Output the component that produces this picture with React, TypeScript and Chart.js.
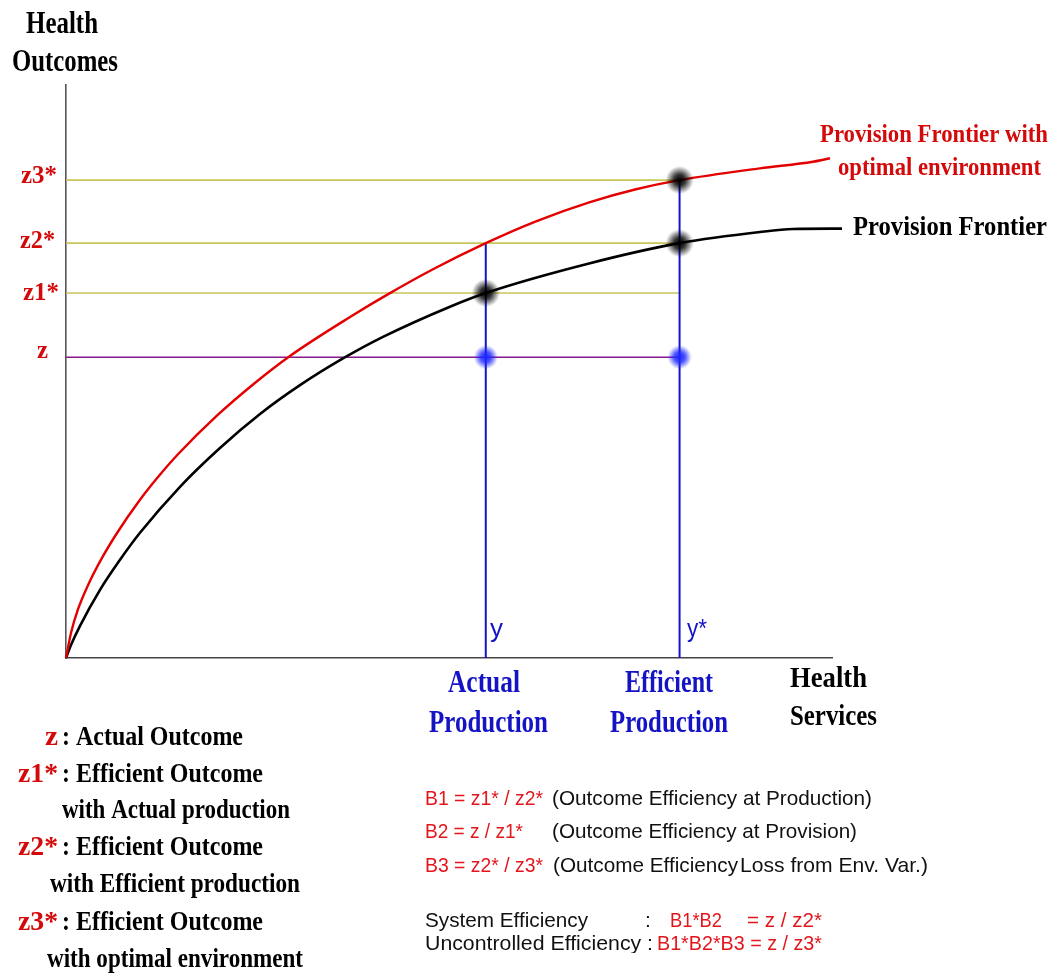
import React, { useEffect, useRef } from "react";
import { Chart, registerables } from "chart.js";

Chart.register(...registerables);

// Provision frontier (black) – health services vs health outcomes
const frontierX = [0, 0.65, 1.83, 4.44, 7.05, 9.66, 14.88, 20.1, 25.33, 30.55, 36.16, 41.38, 50.13, 54.8, 68.41, 80.1, 90.6, 94.91, 101.31];
const frontierY = [0, 2.27, 5.62, 11.9, 17.14, 21.85, 29.88, 36.65, 42.58, 47.61, 52.27, 56.04, 61.31, 63.7, 68.9, 72.4, 74.35, 74.87, 74.94];

// Provision frontier with optimal environment (red)
const optimalX = [0, 0.65, 1.57, 2.87, 4.7, 6.79, 9.4, 12.01, 14.62, 19.84, 24.54, 29.24, 37.08, 41.78, 47.91, 54.8, 61.36, 68.41, 74.41, 80.1, 90.6, 97.52, 99.74];
const optimalY = [0, 4.36, 8.52, 12.7, 17.47, 22.08, 27.14, 31.57, 35.55, 42.46, 47.87, 52.71, 59.51, 63.28, 67.84, 72.4, 76.21, 79.56, 81.81, 83.4, 85.46, 86.61, 87.21];

// Outcome levels: z, z1*, z2*, z3*
const outcomeLabels = ["z", "z1*", "z2*", "z3*"];
const outcomeLevels = [52.5, 63.7, 72.4, 83.4];

// Production levels: y (actual), y* (efficient)
const productionLabels = ["y", "y*"];
const productionLevels = [54.8, 80.1];

const RED = "#d40a0a";
const FRED = "#e3161c";
const BLUE = "#1414c4";
const YELLOW = "#c9c65a";
const PURPLE = "#84188c";

const serif = (px: number) => `bold ${px}px "Liberation Serif", "Times New Roman", serif`;
const sans = (px: number) => `${px}px "Liberation Sans", Arial, sans-serif`;

type TextItem = { t: string; x0: number; x1?: number; y: number; font: string; color: string; clipBottom?: number };

const [zA, z1, z2, z3] = outcomeLevels;
const [yA, yE] = productionLevels;

const texts: TextItem[] = [
  { t: "Health", x0: 26, x1: 98, y: 33, font: serif(32), color: "#000" },
  { t: "Outcomes", x0: 12, x1: 118, y: 71, font: serif(32), color: "#000" },
  { t: outcomeLabels[3], x0: 21, x1: 57, y: 183, font: serif(26), color: RED },
  { t: outcomeLabels[2], x0: 20, x1: 55, y: 248, font: serif(26), color: RED },
  { t: outcomeLabels[1], x0: 23, x1: 59, y: 300, font: serif(26), color: RED },
  { t: outcomeLabels[0], x0: 37, x1: 48, y: 358, font: serif(26), color: RED },
  { t: "Provision Frontier with", x0: 820, x1: 1048, y: 142, font: serif(26), color: RED },
  { t: "optimal environment", x0: 838, x1: 1041, y: 175, font: serif(26), color: RED },
  { t: "Provision Frontier", x0: 853, x1: 1047, y: 235, font: serif(27), color: "#000" },
  { t: productionLabels[0], x0: 490, x1: 503, y: 637, font: sans(26), color: BLUE },
  { t: productionLabels[1], x0: 687, x1: 707, y: 637, font: sans(26), color: BLUE },
  { t: "Actual", x0: 448, x1: 520, y: 692, font: serif(31), color: BLUE },
  { t: "Production", x0: 429, x1: 548, y: 732, font: serif(31), color: BLUE },
  { t: "Efficient", x0: 625, x1: 713, y: 692, font: serif(31), color: BLUE },
  { t: "Production", x0: 610, x1: 728, y: 732, font: serif(31), color: BLUE },
  { t: "Health", x0: 790, x1: 867, y: 687, font: serif(30), color: "#000" },
  { t: "Services", x0: 790, x1: 877, y: 725, font: serif(30), color: "#000" },

  { t: "z", x0: 45, x1: 58, y: 745, font: serif(28), color: RED },
  { t: ": Actual Outcome", x0: 62, x1: 243, y: 745, font: serif(28), color: "#000" },
  { t: "z1*", x0: 18, x1: 58, y: 782, font: serif(28), color: RED },
  { t: ": Efficient Outcome", x0: 62, x1: 263, y: 782, font: serif(28), color: "#000" },
  { t: "with Actual production", x0: 62, x1: 290, y: 818, font: serif(28), color: "#000" },
  { t: "z2*", x0: 18, x1: 58, y: 855, font: serif(28), color: RED },
  { t: ": Efficient Outcome", x0: 62, x1: 263, y: 855, font: serif(28), color: "#000" },
  { t: "with Efficient production", x0: 50, x1: 300, y: 892, font: serif(28), color: "#000" },
  { t: "z3*", x0: 18, x1: 58, y: 930, font: serif(28), color: RED },
  { t: ": Efficient Outcome", x0: 62, x1: 263, y: 930, font: serif(28), color: "#000" },
  { t: "with optimal environment", x0: 47, x1: 303, y: 967, font: serif(28), color: "#000" },

  { t: "B1 = z1* / z2*", x0: 425, x1: 543, y: 805, font: sans(21), color: FRED },
  { t: "(Outcome Efficiency at Production)", x0: 552, x1: 872, y: 805, font: sans(21), color: "#111" },
  { t: "B2 = z / z1*", x0: 425, x1: 523, y: 838, font: sans(21), color: FRED },
  { t: "(Outcome Efficiency at Provision)", x0: 552, x1: 857, y: 838, font: sans(21), color: "#111" },
  { t: "B3 = z2* / z3*", x0: 425, x1: 543, y: 872, font: sans(21), color: FRED },
  { t: "(Outcome Efficiency", x0: 553, x1: 738, y: 872, font: sans(21), color: "#111" },
  { t: "Loss from Env. Var.)", x0: 740, x1: 928, y: 872, font: sans(21), color: "#111" },
  { t: "System Efficiency", x0: 425, x1: 588, y: 927, font: sans(21), color: "#111" },
  { t: ":", x0: 645, y: 927, font: sans(21), color: "#111" },
  { t: "B1*B2", x0: 670, x1: 722, y: 927, font: sans(21), color: FRED },
  { t: "= z / z2*", x0: 747, x1: 822, y: 927, font: sans(21), color: FRED },
  { t: "Uncontrolled Efficiency :", x0: 425, x1: 653, y: 950, font: sans(21), color: "#111", clipBottom: 953 },
  { t: "B1*B2*B3 = z / z3*", x0: 657, x1: 822, y: 950, font: sans(21), color: FRED },
];

const textPlugin = {
  id: "diagramTexts",
  afterDraw(chart: any) {
    const ctx: CanvasRenderingContext2D = chart.ctx;
    for (const it of texts) {
      ctx.save();
      if (it.clipBottom) {
        ctx.beginPath();
        ctx.rect(0, 0, 1058, it.clipBottom);
        ctx.clip();
      }
      ctx.font = it.font;
      ctx.fillStyle = it.color;
      ctx.textBaseline = "alphabetic";
      ctx.textAlign = "left";
      const w = ctx.measureText(it.t).width;
      const sx = it.x1 !== undefined ? (it.x1 - it.x0) / w : 1;
      ctx.translate(it.x0, it.y);
      ctx.scale(sx, 1);
      ctx.fillText(it.t, 0, 0);
      ctx.restore();
    }
  },
};

function makeDot(r: number, rgb: string, core: number, mid: number) {
  const c = document.createElement("canvas");
  c.width = r * 2;
  c.height = r * 2;
  const g = c.getContext("2d")!;
  const grad = g.createRadialGradient(r, r, 0, r, r, r);
  grad.addColorStop(0, `rgba(${rgb},1)`);
  grad.addColorStop(core, `rgba(${rgb},${mid})`);
  grad.addColorStop(1, `rgba(${rgb},0)`);
  g.fillStyle = grad;
  g.fillRect(0, 0, r * 2, r * 2);
  return c;
}

const zip = (xs: number[], ys: number[]) => xs.map((x, i) => ({ x, y: ys[i] }));

export default function App() {
  const ref = useRef<HTMLCanvasElement | null>(null);

  useEffect(() => {
    if (!ref.current) return;
    const blackDot = makeDot(14, "0,0,0", 0.4, 0.8);
    const blueDot = makeDot(12, "30,40,255", 0.45, 0.8);

    const hLine = (lvl: number, color: string) => ({
      data: [{ x: 0, y: lvl }, { x: yE, y: lvl }],
      borderColor: color,
      borderWidth: 1.6,
      pointRadius: 0,
      fill: false,
    });

    const chart = new Chart(ref.current, {
      type: "line",
      data: {
        datasets: [
          {
            data: [{ x: yA, y: z1 }, { x: yE, y: z2 }, { x: yE, y: z3 }],
            showLine: false,
            pointStyle: blackDot as any,
            pointRadius: 10,
            clip: false as any,
          },
          {
            data: [{ x: yA, y: zA }, { x: yE, y: zA }],
            showLine: false,
            pointStyle: blueDot as any,
            pointRadius: 10,
          },
          {
            data: zip(optimalX, optimalY),
            borderColor: "#e40000",
            borderWidth: 2.4,
            pointRadius: 0,
            cubicInterpolationMode: "monotone",
            clip: false as any,
          },
          {
            data: zip(frontierX, frontierY),
            borderColor: "#000",
            borderWidth: 2.6,
            pointRadius: 0,
            cubicInterpolationMode: "monotone",
            clip: false as any,
          },
          {
            data: [{ x: yA, y: 0 }, { x: yA, y: z2 }],
            borderColor: BLUE,
            borderWidth: 2,
            pointRadius: 0,
          },
          {
            data: [{ x: yE, y: 0 }, { x: yE, y: z3 }],
            borderColor: BLUE,
            borderWidth: 2,
            pointRadius: 0,
          },
          hLine(z3, YELLOW),
          hLine(z2, YELLOW),
          hLine(z1, YELLOW),
          hLine(zA, PURPLE),
        ] as any,
      },
      options: {
        animation: false,
        responsive: true,
        maintainAspectRatio: false,
        events: [],
        layout: { padding: { left: 66, right: 226, top: 85, bottom: 317 } },
        plugins: { legend: { display: false }, tooltip: { enabled: false }, title: { display: false } },
        scales: {
          x: {
            type: "linear",
            min: 0,
            max: 100,
            grid: { display: false },
            ticks: { display: false },
            border: { display: true, color: "#444", width: 1.6 },
            afterFit: (s: any) => {
              s.height = 0;
            },
          },
          y: {
            type: "linear",
            min: 0,
            max: 100,
            grid: { display: false },
            ticks: { display: false },
            border: { display: true, color: "#555", width: 1.6 },
            afterFit: (s: any) => {
              s.width = 0;
            },
          },
        },
      } as any,
      plugins: [textPlugin],
    });
    return () => chart.destroy();
  }, []);

  return (
    <div style={{ position: "fixed", left: 0, top: 0, width: 1058, height: 975, background: "#fff" }}>
      <canvas ref={ref} />
    </div>
  );
}
